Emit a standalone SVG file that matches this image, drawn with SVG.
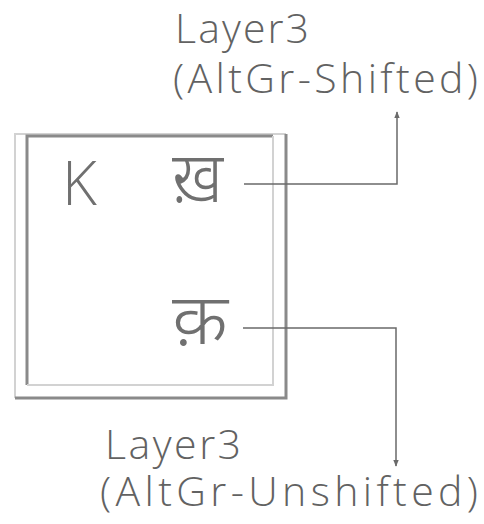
<svg xmlns="http://www.w3.org/2000/svg" width="484" height="524" viewBox="0 0 484 524">
  <style>
    .lbl { font-family: "Open Sans", "Noto Sans", "DejaVu Sans", sans-serif; font-weight: 300; fill: #626262; font-size: 41px; }
    .key { font-family: "Open Sans", "Noto Sans", "DejaVu Sans", sans-serif; font-weight: 300; fill: #707070; font-size: 60px; }
    .dev { font-family: "Noto Sans Devanagari", "Noto Sans", "Lohit Devanagari", "FreeSans", sans-serif; font-weight: 300; fill: #707070; font-size: 70px; }
    .wire { fill: none; stroke: #6a6a6a; stroke-width: 1.5; }
    .dark { stroke: #8a8a8a; stroke-width: 3; fill: none; }
    .faint { stroke: #d2d2d2; stroke-width: 2; fill: none; }
  </style>
  <defs>
    <marker id="arr" viewBox="0 0 10 10" refX="9" refY="5" markerWidth="7" markerHeight="7" orient="auto-start-reverse" markerUnits="userSpaceOnUse">
      <path d="M0,1 L10,5 L0,9 Z" fill="#6a6a6a"/>
    </marker>
  </defs>
  <rect width="484" height="524" fill="#ffffff"/>
  <g id="key">
    <path class="faint" d="M15,398 L15,134 L286,134"/>
    <path class="dark" d="M286,134 L286,398 L15,398"/>
    <path class="dark" d="M27,385 L27,136 L273,136"/>
    <path class="faint" d="M273,136 L273,385 L27,385"/>
    <text class="key" x="62" y="205">K</text>
    <text class="dev" x="172" y="202" textLength="51" lengthAdjust="spacingAndGlyphs">ख़</text>
    <text class="dev" x="172" y="344" textLength="56" lengthAdjust="spacingAndGlyphs">क़</text>
  </g>
  <g id="label-shifted">
    <text class="lbl" x="175" y="43" textLength="134">Layer3</text>
    <text class="lbl" x="173" y="93" textLength="305">(AltGr-Shifted)</text>
  </g>
  <g id="label-unshifted">
    <text class="lbl" x="105" y="459" textLength="136">Layer3</text>
    <text class="lbl" x="100" y="506" textLength="378">(AltGr-Unshifted)</text>
  </g>
  <g id="connectors">
    <path class="wire" d="M244,184 L397,184 L397,112" marker-end="url(#arr)"/>
    <path class="wire" d="M243,328 L396,328 L396,466" marker-end="url(#arr)"/>
  </g>
</svg>
